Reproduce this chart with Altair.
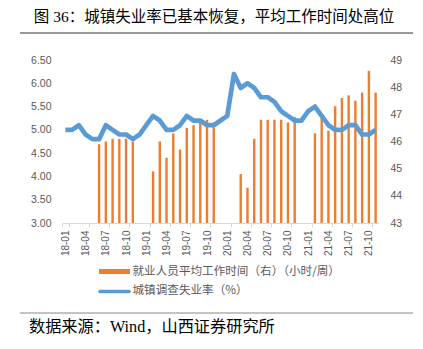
import altair as alt
import pandas as pd

months = [
    "18-01", "18-02", "18-03", "18-04", "18-05", "18-06", "18-07", "18-08", "18-09", "18-10", "18-11", "18-12",
    "19-01", "19-02", "19-03", "19-04", "19-05", "19-06", "19-07", "19-08", "19-09", "19-10", "19-11", "19-12",
    "20-01", "20-02", "20-03", "20-04", "20-05", "20-06", "20-07", "20-08", "20-09", "20-10", "20-11", "20-12",
    "21-01", "21-02", "21-03", "21-04", "21-05", "21-06", "21-07", "21-08", "21-09", "21-10", "21-11",
]
tick_labels = [
    "18-01", "18-04", "18-07", "18-10", "19-01", "19-04", "19-07", "19-10",
    "20-01", "20-04", "20-07", "20-10", "21-01", "21-04", "21-07", "21-10",
]
# 城镇调查失业率（%）
rate = [
    5.0, 5.0, 5.1, 4.9, 4.8, 4.8, 5.1, 5.0, 4.9, 4.9, 4.8, 4.9,
    5.1, 5.3, 5.2, 5.0, 5.0, 5.1, 5.3, 5.2, 5.2, 5.1, 5.1, 5.2,
    5.3, 6.2, 5.9, 6.0, 5.9, 5.7, 5.7, 5.6, 5.4, 5.3, 5.2, 5.2,
    5.4, 5.5, 5.3, 5.1, 5.0, 5.0, 5.1, 5.1, 4.9, 4.9, 5.0,
]
# 就业人员平均工作时间（小时/周）
hours = [
    None, None, None, None, None, 45.9, 46.0, 46.1, 46.1, 46.1, 46.0, None,
    None, 44.9, 46.0, 45.4, 46.3, 45.7, 46.5, 46.6, 46.7, 46.8, 46.7, None,
    None, None, 44.8, 44.3, 46.1, 46.8, 46.8, 46.8, 46.8, 46.7, 46.9, None,
    None, 46.3, 46.9, 46.4, 47.3, 47.6, 47.7, 47.5, 47.8, 48.6, 47.8,
]
left_ticks = [3.0, 3.5, 4.0, 4.5, 5.0, 5.5, 6.0, 6.5]
right_ticks = [43, 44, 45, 46, 47, 48, 49]

title_text = "图 36：城镇失业率已基本恢复，平均工作时间处高位"
source_text = "数据来源：Wind，山西证券研究所"
bar_name = "就业人员平均工作时间（右）（小时/周）"
line_name = "城镇调查失业率（%）"

ORANGE = "#ED7D31"
BLUE = "#5B9BD5"
GRAY = "#595959"
AXIS_FONT = "Liberation Sans"
CJK = "Noto Sans CJK SC"
TITLE_FONT = "Liberation Serif, Noto Sans CJK SC"

df = pd.DataFrame({"month": months, "rate": rate, "hours": hours})

x_enc = alt.X(
    "month:N",
    sort=months,
    scale=alt.Scale(paddingInner=0, paddingOuter=0),
    axis=alt.Axis(
        values=tick_labels,
        title=None,
        labelAngle=-90,
        labelFontSize=10,
        labelFont=AXIS_FONT,
        labelColor=GRAY,
        labelPadding=3,
        tickBand="extent",
        tickSize=4,
        tickColor="#D9D9D9",
        domainColor="#D9D9D9",
        grid=False,
    ),
)

bars = alt.Chart(df).mark_bar(color=ORANGE, size=2.4).encode(
    x=x_enc,
    y=alt.Y(
        "hours:Q",
        scale=alt.Scale(domain=[43, 49], nice=False, zero=False),
        axis=alt.Axis(
            orient="right",
            values=right_ticks,
            format="d",
            title=None,
            grid=False,
            domain=False,
            ticks=False,
            tickSize=0,
            labelPadding=11,
            labelFontSize=10.5,
            labelFont=AXIS_FONT,
            labelColor=GRAY,
        ),
    ),
    y2=alt.datum(43),
)

line = alt.Chart(df).mark_line(color=BLUE, strokeWidth=4.7, strokeJoin="round").encode(
    x=x_enc,
    y=alt.Y(
        "rate:Q",
        scale=alt.Scale(domain=[3, 6.5], nice=False, zero=False),
        axis=alt.Axis(
            orient="left",
            values=left_ticks,
            format=".2f",
            title=None,
            grid=False,
            domain=False,
            ticks=False,
            tickSize=0,
            labelPadding=11,
            labelFontSize=10.5,
            labelFont=AXIS_FONT,
            labelColor=GRAY,
        ),
    ),
)

one = pd.DataFrame({"k": [0]})

title_t = alt.Chart(one).mark_text(
    text=title_text, font=TITLE_FONT, fontSize=15.5, color="#000000", align="center", baseline="middle"
).encode(x=alt.value(152), y=alt.value(-43))

rule_top = alt.Chart(one).mark_rule(color="#333333", strokeWidth=1).encode(
    x=alt.value(-42), x2=alt.value(351), y=alt.value(-27)
)
rule_bot = alt.Chart(one).mark_rule(color="#888888", strokeWidth=1).encode(
    x=alt.value(-42), x2=alt.value(351), y=alt.value(253)
)
src_t = alt.Chart(one).mark_text(
    text=source_text, font=TITLE_FONT, fontSize=16.2, color="#000000", align="left", baseline="middle"
).encode(x=alt.value(-33), y=alt.value(267))

leg_rect = alt.Chart(one).mark_rect(color=ORANGE).encode(
    x=alt.value(37), x2=alt.value(68), y=alt.value(209), y2=alt.value(214)
)
leg_line = alt.Chart(one).mark_rule(color=BLUE, strokeWidth=3.5, strokeCap="round").encode(
    x=alt.value(38), x2=alt.value(67), y=alt.value(231.5)
)
leg_t1 = alt.Chart(one).mark_text(
    text=bar_name, font=CJK, fontSize=11.6, color=GRAY, align="left", baseline="middle"
).encode(x=alt.value(70.5), y=alt.value(211.5))
leg_t2 = alt.Chart(one).mark_text(
    text=line_name, font=CJK, fontSize=11.6, color=GRAY, align="left", baseline="middle"
).encode(x=alt.value(70.5), y=alt.value(231))

chart = (
    alt.layer(bars, line, title_t, rule_top, rule_bot, src_t, leg_rect, leg_line, leg_t1, leg_t2)
    .resolve_scale(y="independent")
    .properties(
        width=317,
        height=163,
        padding={"left": 62, "top": 60, "right": 44, "bottom": 126},
        autosize=alt.AutoSizeParams(type="none"),
        background="white",
    )
    .configure_view(stroke=None)
)

chart.save("out.html", embed_options={"renderer": "svg", "actions": False})
